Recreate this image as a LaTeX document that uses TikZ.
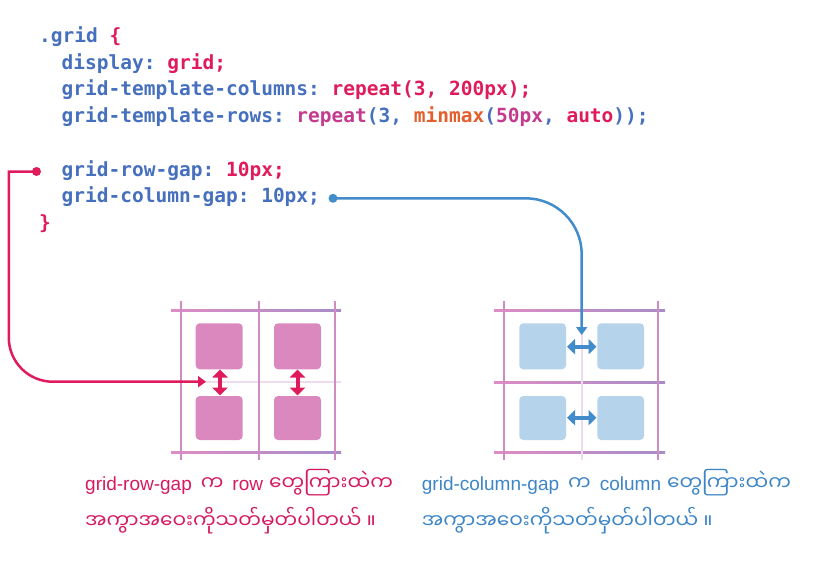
\documentclass[tikz,border=0pt]{standalone}
\usepackage{fontspec}
\usetikzlibrary{arrows.meta}
\setmonofont{DejaVu Sans Mono}
\newfontfamily\lat{Liberation Sans}
\newfontfamily\mya[Script=Myanmar,Scale=1.06]{Noto Sans Myanmar UI}

\definecolor{cblue}{RGB}{70,112,190}
\definecolor{cred}{RGB}{224,27,92}
\definecolor{cmag}{RGB}{196,58,140}
\definecolor{corange}{RGB}{226,96,46}
\definecolor{lblue}{RGB}{66,140,204}
\definecolor{tblue}{RGB}{61,133,198}
\definecolor{tpink}{RGB}{214,26,96}
\definecolor{pinkbox}{RGB}{218,136,190}
\definecolor{bluebox}{RGB}{181,211,234}
\definecolor{gridl}{RGB}{222,140,198}
\definecolor{gridr}{RGB}{168,140,198}
\definecolor{gridv}{RGB}{206,140,196}
\definecolor{gridfaint}{RGB}{236,220,238}

\newcommand{\B}[1]{\textcolor{cblue}{#1}}
\newcommand{\R}[1]{\textcolor{cred}{#1}}
\newcommand{\M}[1]{\textcolor{cmag}{#1}}
\newcommand{\Or}[1]{\textcolor{corange}{#1}}

\tikzset{
  code/.style={anchor=base west, inner sep=0pt, font=\ttfamily\bfseries\fontsize{19.5}{20}\selectfont},
  caption/.style={anchor=base west, inner sep=0pt, font=\fontsize{19}{20}\selectfont},
  hline/.style={left color=gridl, right color=gridr, draw=none},
  vline/.style={gridv, line width=2pt},
  faint/.style={gridfaint, line width=2pt},
  pinkcell/.style={fill=pinkbox, rounded corners=4pt},
  bluecell/.style={fill=bluebox, rounded corners=4pt},
  gaparrow/.style={line width=4pt, {Triangle[length=8pt,width=15pt]}-{Triangle[length=8pt,width=15pt]}},
  pointer/.style={line width=2.5pt, -{Triangle[length=8pt,width=11pt]}},
  dot/.style={circle, inner sep=0pt, minimum size=9pt}
}

\begin{document}
\begin{tikzpicture}[x=1pt,y=-1pt]
\useasboundingbox (0,0) rectangle (825,563);

% CSS code block
\node[code] (l1) at (39,42.5) {\B{.grid} \R{\{}};
\node[code] (l2) at (61.5,69) {\B{display:} \R{grid;}};
\node[code] (l3) at (61.5,95.5) {\B{grid-template-columns:} \R{repeat(3, 200px);}};
\node[code] (l4) at (61.5,122) {\B{grid-template-rows:} \M{repeat}\B{(3,} \Or{minmax}\B{(}\M{50px}\B{,} \R{auto}\B{));}};
\node[code] (l5) at (61.5,176) {\B{grid-row-gap:} \R{10px;}};
\node[code] (l6) at (61.5,202.5) {\B{grid-column-gap: 10px;}};
\node[code] (l7) at (39,229) {\R{\}}};

% row-gap example grid
\fill[hline] (171,309) rectangle (341,311.5);
\fill[hline] (171,451) rectangle (341,453.5);
\draw[faint] (196,382.3) -- (341,382.3);
\foreach \x in {180.7,258.7,335}
  \draw[vline] (\x,301) -- (\x,460);
\fill[pinkcell] (195.7,323.3) rectangle (242.7,369.3);
\fill[pinkcell] (274,323.3) rectangle (321,369.3);
\fill[pinkcell] (195.7,396) rectangle (242.7,440);
\fill[pinkcell] (274,396) rectangle (321,440);
\coordinate (ra1) at (220,369.5);
\coordinate (rb1) at (220,395.5);
\coordinate (ra2) at (297.5,369.5);
\coordinate (rb2) at (297.5,395.5);
\draw[gaparrow, cred] (ra1) -- (rb1);
\draw[gaparrow, cred] (ra2) -- (rb2);

% column-gap example grid
\fill[hline] (494,309) rectangle (665,311.5);
\fill[hline] (494,381) rectangle (665,383.5);
\fill[hline] (494,451) rectangle (665,453.5);
\draw[faint] (581.7,301) -- (581.7,460);
\draw[vline] (504,301) -- (504,460);
\draw[vline] (658.3,301) -- (658.3,460);
\fill[bluecell] (519.3,323.3) rectangle (566,369.3);
\fill[bluecell] (597.3,323.3) rectangle (644,369.3);
\fill[bluecell] (519.3,396) rectangle (566,440);
\fill[bluecell] (597.3,396) rectangle (644,440);
\coordinate (ca1) at (567,346.7);
\coordinate (cb1) at (596.5,346.7);
\coordinate (ca2) at (567,417.7);
\coordinate (cb2) at (596.5,417.7);
\draw[gaparrow, lblue] (ca1) -- (cb1);
\draw[gaparrow, lblue] (ca2) -- (cb2);

% pointers from the code to the examples
\node[dot, fill=cred] (rowdot) at (36.5,171.5) {};
\node[dot, fill=lblue] (coldot) at (333,198.3) {};
\coordinate (rowtip) at (206,381.7);
\coordinate (coltip) at (581.7,335);
\draw[pointer, cred] (rowdot.center) -- (8.8,171.5) -- (8.8,337.7)
  arc[start angle=180, end angle=90, radius=44] -- (rowtip);
\draw[pointer, lblue, rounded corners=56pt] (coldot.center) -| (coltip);

% captions
\node[caption, tpink] (rowcap1) at (85,490)
  {\lat grid-row-gap\hspace{9pt}\mya က\hspace{9pt}\lat row\hspace{6pt}\mya တွေကြားထဲက};
\node[caption, tpink] (rowcap2) at (85,528) {\mya အကွာအဝေးကိုသတ်မှတ်ပါတယ်\hspace{5pt}။};
\node[caption, tblue] (colcap1) at (421.7,490)
  {\lat grid-column-gap\hspace{9pt}\mya က\hspace{9pt}\lat column\hspace{6pt}\mya တွေကြားထဲက};
\node[caption, tblue] (colcap2) at (421.7,528) {\mya အကွာအဝေးကိုသတ်မှတ်ပါတယ်\hspace{5pt}။};
\end{tikzpicture}
\end{document}
